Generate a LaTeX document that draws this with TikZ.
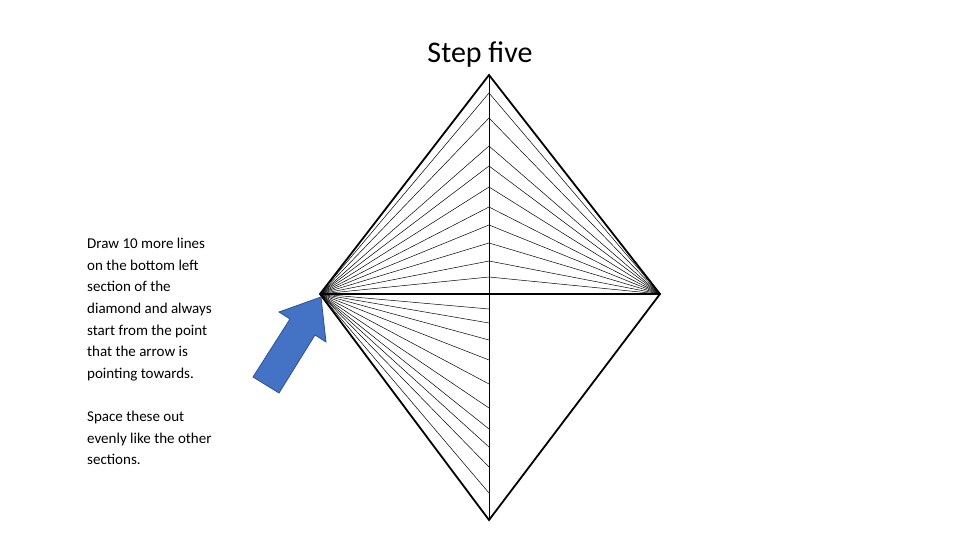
\documentclass[tikz,border=0pt]{standalone}
\usepackage{fontspec}
\setmainfont{Carlito}
\begin{document}
\begin{tikzpicture}[x=1pt,y=-1pt,edge/.style={line width=1.8pt},ray/.style={line width=0.5pt},note/.style={anchor=north west,align=left,inner sep=0pt,font=\fontsize{15}{21.6}\selectfont}]
  \useasboundingbox (0,0) rectangle (960,540);
  \coordinate (T) at (489,75); \coordinate (L) at (320,294);
  \coordinate (R) at (660,294); \coordinate (B) at (489,520);
  \coordinate (C) at (489,294);
%
  \foreach \y in {93,118,146,166,187,207,225,243,261,277}{
    \draw [ray] (L) -- (489,\y) -- (R);}
  \foreach \y in {309,323,340,360,384,408,429,447,467,493}{
    \draw [ray] (L) -- (489,\y);}
%
  \draw [ray, line width=0.8pt] (T) -- (B);
  \draw [edge] (L) -- (R);
  \draw [edge, line join=miter] (T) -- (R) -- (B) -- (L) -- cycle;
%
  \node (title) at (480,55) {\fontsize{30}{36}\selectfont Step five};
  \node [note] (text1) at (87,238) {Draw 10 more lines\\on the bottom left\\section of the\\diamond and always\\start from the point\\that the arrow is\\pointing towards.};
  \node [note] (text2) at (87,411) {Space these out\\evenly like the other\\sections.};
%
  \fill [fill={rgb,255:red,68;green,114;blue,196}, draw={rgb,255:red,47;green,82;blue,143}, line width=0.8pt]
    (253,377) -- (290,319) -- (279,312) -- (321,297) -- (326,342) -- (315,335) -- (279,393) -- cycle;
\end{tikzpicture}
\end{document}
